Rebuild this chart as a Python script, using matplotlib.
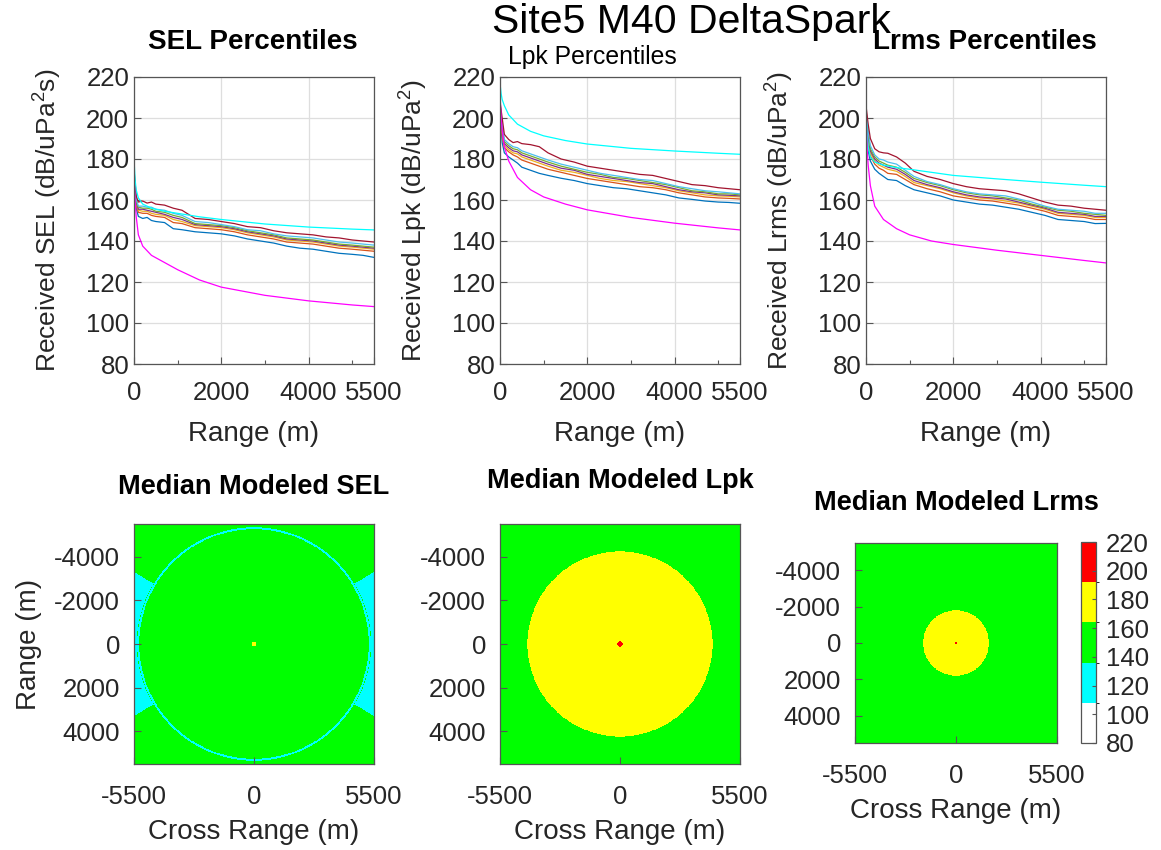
import numpy as np
import matplotlib
matplotlib.use("Agg")
import matplotlib.pyplot as plt
from matplotlib.colors import ListedColormap, BoundaryNorm

plt.rcParams['font.family'] = ['Liberation Sans', 'DejaVu Sans']
plt.rcParams['mathtext.fontset'] = 'custom'
plt.rcParams['mathtext.rm'] = 'Liberation Sans'
plt.rcParams['mathtext.it'] = 'Liberation Sans'
plt.rcParams['axes.unicode_minus'] = False

# ---------------- data ----------------
rng_pct = [0, 50, 100, 200, 300, 400, 500, 700, 900, 1100, 1400, 1700, 2000, 2300,
           2600, 2900, 3200, 3500, 3800, 4100, 4400, 4700, 5000, 5250, 5500]
rng_env = [0, 25, 50, 100, 200, 400, 700, 1000, 1500, 2000, 3000, 4000, 5000, 5500]

# SEL percentiles (bottom to top)
sel_blue = [170, 156, 152, 151, 151.5, 150, 149.5, 149, 146, 145.5, 144.5, 144, 143.5, 142.5,
            141, 140, 139, 137.5, 136.5, 136, 135, 134, 133.5, 133, 132]
sel_orange = [171.5, 157.5, 154, 153.5, 153.5, 152.5, 152, 151.5, 149, 148.5, 146.5, 146, 145.5, 144.5,
              143, 142, 141, 139.5, 139, 138.5, 137.5, 136.5, 136, 135.5, 135]
sel_yellow = [172, 158.5, 155, 154.5, 154.5, 153.5, 153, 152.5, 150.5, 149.5, 147.5, 147, 146.5, 145.5,
              144, 143, 142, 140.5, 140, 139.5, 138.5, 137.5, 137, 136.5, 136]
sel_purple = [172.5, 159, 155.5, 155.5, 155, 154.5, 154, 153, 151.5, 150.5, 148, 147.5, 147, 146,
              144.5, 143.5, 142.5, 141, 140.5, 140, 139, 138, 137.5, 137, 136.5]
sel_green = [173, 159.5, 156.5, 156, 156, 155.5, 154.5, 154, 152.5, 151.5, 148.5, 148, 147.5, 146.5,
             145, 144, 143, 141.5, 141, 140.5, 139.5, 138.5, 138, 137.5, 137]
sel_lblue = [174, 160.5, 157, 157, 156.5, 156.5, 155.5, 155, 153.5, 152.5, 149.5, 149, 148, 147,
             145.5, 145, 143.5, 142.5, 142, 141.5, 140.5, 139.5, 139, 138.5, 138]
sel_dred = [175, 162, 159, 159.5, 158.5, 159, 158, 157.5, 156, 155, 151, 150.5, 149.5, 148.5,
            147, 146.5, 145, 144, 143.5, 143, 142, 141.5, 140.5, 140, 139.5]
sel_max = [180, 170, 165, 161, 158, 156, 154.5, 153.5, 151.8, 150.5, 148.3, 146.8, 145.8, 145.4]
sel_min = [172, 160, 152, 143, 137.5, 133, 129.5, 126, 121, 117.5, 113.5, 110.8, 108.8, 108]

# Lpk percentiles
lpk_blue = [205, 188, 183, 181, 179.5, 178, 176, 174.5, 173, 172, 170.6, 169.5, 168, 167,
            166, 165.5, 164.5, 163.5, 162.5, 161, 160.3, 159.5, 159, 158.8, 158.4]
lpk_orange = [206, 191, 185.5, 183.5, 182, 181, 179.5, 178, 176.5, 175, 173.5, 172, 170.5, 169.5,
              168.5, 167.5, 166.5, 166, 165, 163.5, 162.5, 161.5, 161, 160.8, 160.5]
lpk_yellow = [206.5, 193, 186.5, 184.5, 183, 182.5, 181, 179.5, 178, 176.5, 174.5, 173.5, 172, 170.5,
              169.5, 169, 168, 167, 166, 164.5, 163.5, 162.5, 162, 161.8, 161.5]
lpk_purple = [207, 194, 187.5, 185.5, 184, 183.5, 182, 180.5, 179, 177.5, 175.5, 174.5, 172.5, 171.5,
              170.5, 169.5, 168.5, 168, 166.5, 165, 164, 163.5, 162.5, 162.3, 162]
lpk_green = [207, 195.5, 188.5, 186.5, 185, 184.5, 183, 181.5, 180, 178.5, 176.5, 175, 173.5, 172.5,
             171, 170.5, 169.5, 168.5, 167.5, 166, 164.5, 164, 163, 163, 162.5]
lpk_lblue = [207.5, 197, 189.5, 187.5, 186, 185.5, 184, 182.5, 181, 179.5, 177.5, 176, 174.5, 173,
             172, 171, 170, 169.5, 168, 166.5, 165.5, 164.5, 164, 163.5, 163]
lpk_dred = [208, 200, 192, 189.5, 188, 188.5, 187.5, 187, 186, 183, 180, 178.5, 176.5, 175.5,
            174.5, 173.5, 172.5, 172, 170.5, 169, 167.5, 167, 166, 165.5, 165]
lpk_max = [217, 212, 209, 206, 201.5, 197, 193.5, 191.3, 189, 187.3, 185.2, 183.9, 182.8, 182.3]
lpk_min = [212, 200, 194, 186, 179, 171, 165, 161.5, 158, 155.2, 151.5, 148.7, 146.4, 145.4]

# Lrms percentiles
lrms_blue = [200, 184, 179, 175, 173, 171.5, 170, 169.5, 167, 165, 163.5, 162, 160, 159,
             158, 157.5, 156.5, 155.5, 154, 152.5, 150.5, 150, 149.5, 148.5, 148.6]
lrms_orange = [201.5, 187, 181.5, 177.5, 175.5, 174.5, 173, 172.5, 170, 167.5, 165.5, 164, 162, 161,
               160, 159.5, 158.5, 157.5, 156, 154.5, 152.5, 152, 151.5, 150.5, 150.5]
lrms_yellow = [202.5, 189, 183, 179, 177, 176, 175, 174, 171.5, 168.5, 167, 165.5, 163.5, 162,
               161, 160.5, 159.5, 158.5, 157, 155.5, 153.5, 153, 152.5, 151.5, 151.5]
lrms_purple = [203, 190.5, 184, 180, 178, 177, 176, 175, 172.5, 169.5, 167.5, 166, 164, 162.5,
               161.5, 161, 160.5, 159, 157.5, 156, 154, 153.5, 153, 152, 152]
lrms_green = [204, 192, 185, 181, 179, 178, 177, 176, 173.5, 170.5, 168.5, 167, 165, 163.5,
              162.5, 162, 161, 160, 158, 156.5, 155, 154.5, 153.5, 153, 152.5]
lrms_lblue = [204.5, 193.5, 186.5, 182, 180, 179.5, 178.5, 177.5, 174.5, 171.5, 169, 167.5, 165.5, 164,
              163, 162.5, 162, 160.5, 159, 157, 155.5, 155, 154.5, 153.5, 153.5]
lrms_dred = [206, 197, 190, 185, 183.5, 183, 182.8, 181, 178, 174, 171.5, 170, 168, 166.5,
             165.5, 165, 164.5, 163, 161, 159, 157.5, 157, 156, 155.5, 155]
lrms_max = [204, 192, 186, 181, 178.5, 177, 175.8, 175, 173.5, 172, 170.3, 168.7, 167.2, 166.5]
lrms_min = [202, 185, 177, 167, 157, 150.5, 146, 143, 140, 138.3, 135.5, 133, 130.5, 129.3]

# Median modeled radial profiles (range m, level dB) for the maps
sel_prof_r = [0, 90, 110, 5240, 5270, 5340, 5370, 8000]
sel_prof_v = [170, 170, 155, 150, 130, 130, 150, 150]
sel_wedge_deg = 31        # half-angle of low-level wedges beyond the ring (from cross-range axis)
sel_wedge_r = 5370
sel_wedge_v = 130
lpk_prof_r = [0, 100, 130, 4200, 4280, 8000]
lpk_prof_v = [200, 200, 185, 175, 155, 150]
lrms_prof_r = [0, 60, 90, 1760, 1840, 8000]
lrms_prof_v = [195, 195, 180, 170, 155, 150]

cbar_levels = [80, 108, 136, 164, 192, 220]
cbar_colors = ['#FFFFFF', '#00FFFF', '#00FF00', '#FFFF00', '#FF0000']

pct_colors = ['#0072BD', '#D95319', '#EDB120', '#7E2F8E', '#77AC30', '#4DBEEE', '#A2142F']

# ---------------- figure ----------------
W, H = 1161, 850
fig = plt.figure(figsize=(W / 100, H / 100), dpi=100)
TXT = '#262626'
EDGE = '#555555'
FS = 18.5
LFS = 20


def rect(x0, y0, x1, y1):
    return [x0 / W, 1 - y1 / H, (x1 - x0) / W, (y1 - y0) / H]


def style(ax):
    for s in ax.spines.values():
        s.set_color(EDGE)
        s.set_linewidth(0.9)
    ax.tick_params(direction='in', colors=EDGE, labelcolor=TXT, labelsize=FS, length=5, width=0.8)
    ax.tick_params(which='minor', direction='in', colors=EDGE, length=3, width=0.8)


panels = [
    (rect(134, 77, 374, 364), [sel_blue, sel_orange, sel_yellow, sel_purple, sel_green, sel_lblue, sel_dred],
     sel_max, sel_min, 'Received SEL (dB/uPa$^2$s)'),
    (rect(500, 77, 740, 364), [lpk_blue, lpk_orange, lpk_yellow, lpk_purple, lpk_green, lpk_lblue, lpk_dred],
     lpk_max, lpk_min, 'Received Lpk (dB/uPa$^2$)'),
    (rect(866, 77, 1106, 364), [lrms_blue, lrms_orange, lrms_yellow, lrms_purple, lrms_green, lrms_lblue, lrms_dred],
     lrms_max, lrms_min, 'Received Lrms (dB/uPa$^2$)'),
]

for r, lines, mx, mn, ylab in panels:
    ax = fig.add_axes(r)
    for vals, c in zip(lines, pct_colors):
        ax.plot(rng_pct, vals, color=c, lw=0.9)
    ax.plot(rng_env, mx, color='#00FFFF', lw=0.9)
    ax.plot(rng_env, mn, color='#FF00FF', lw=0.9)
    ax.set_xlim(0, 5500)
    ax.set_ylim(80, 220)
    ax.set_xticks([0, 2000, 4000, 5500])
    ax.set_xticks([1000, 3000, 5000], minor=True)
    ax.set_yticks(range(80, 221, 20))
    ax.grid(True, which='major', color='#dedede', lw=0.9)
    ax.set_axisbelow(True)
    style(ax)
    ax.tick_params(axis='x', which='major', pad=12)
    ax.set_xlabel('Range (m)', fontsize=LFS, color=TXT, labelpad=12)
    ax.set_ylabel(ylab, fontsize=19, color=TXT, labelpad=16)

fig.text(253 / W, 1 - 42 / H, 'SEL Percentiles', fontsize=20, fontweight='bold', ha='center', va='center')
fig.text(985 / W, 1 - 42 / H, 'Lrms Percentiles', fontsize=20, fontweight='bold', ha='center', va='center')
fig.text(592 / W, 1 - 57 / H, 'Lpk Percentiles', fontsize=17.8, ha='center', va='center', color='black')
fig.text(691 / W, 1 - 22 / H, 'Site5 M40 DeltaSpark', fontsize=29.5, ha='center', va='center', color='black')

# ---------------- maps ----------------
cmap = ListedColormap(cbar_colors)
norm = BoundaryNorm(cbar_levels, cmap.N)
edges = np.linspace(-5500, 5500, 502)
cent = 0.5 * (edges[:-1] + edges[1:])
XX, YY = np.meshgrid(cent, cent)
RR = np.hypot(XX, YY)
TH = np.degrees(np.arctan2(np.abs(YY), np.abs(XX)))

sel_grid = np.interp(RR, sel_prof_r, sel_prof_v)
sel_grid[(TH < sel_wedge_deg) & (RR > sel_wedge_r)] = sel_wedge_v
lpk_grid = np.interp(RR, lpk_prof_r, lpk_prof_v)
lrms_grid = np.interp(RR, lrms_prof_r, lrms_prof_v)

maps = [
    (rect(134, 524, 374, 764), sel_grid, 'Median Modeled SEL', 487, 254),
    (rect(500, 524, 740, 764), lpk_grid, 'Median Modeled Lpk', 481, 620),
    (rect(855, 543, 1057, 743), lrms_grid, 'Median Modeled Lrms', 503, 956),
]
mesh = None
for i, (r, grid, title, ty, tx) in enumerate(maps):
    ax = fig.add_axes(r)
    mesh = ax.pcolormesh(edges, edges, grid, cmap=cmap, norm=norm, shading='flat')
    ax.set_xlim(-5500, 5500)
    ax.set_ylim(5500, -5500)
    ax.set_xticks([-5500, 0, 5500])
    ax.set_xticklabels(['-5500', '0', '5500'])
    ax.set_yticks([-4000, -2000, 0, 2000, 4000])
    ax.set_yticklabels(['-4000', '-2000', '0', '2000', '4000'])
    style(ax)
    ax.tick_params(axis='y', pad=10)
    ax.tick_params(axis='x', pad=15)
    ax.set_xlabel('Cross Range (m)', fontsize=LFS, color=TXT, labelpad=7)
    if i == 0:
        ax.set_ylabel('Range (m)', fontsize=LFS, color=TXT, labelpad=9)
    fig.text(tx / W, 1 - ty / H, title, fontsize=19.5, fontweight='bold', ha='center', va='center')

cax = fig.add_axes(rect(1081, 542, 1096, 743))
cb = fig.colorbar(mesh, cax=cax, ticks=list(range(80, 221, 20)))
cb.outline.set_edgecolor(EDGE)
cb.outline.set_linewidth(0.9)
cax.tick_params(direction='in', colors=EDGE, labelcolor=TXT, labelsize=FS, length=3, width=0.8, pad=7)

fig.savefig('out.png', dpi=100)
